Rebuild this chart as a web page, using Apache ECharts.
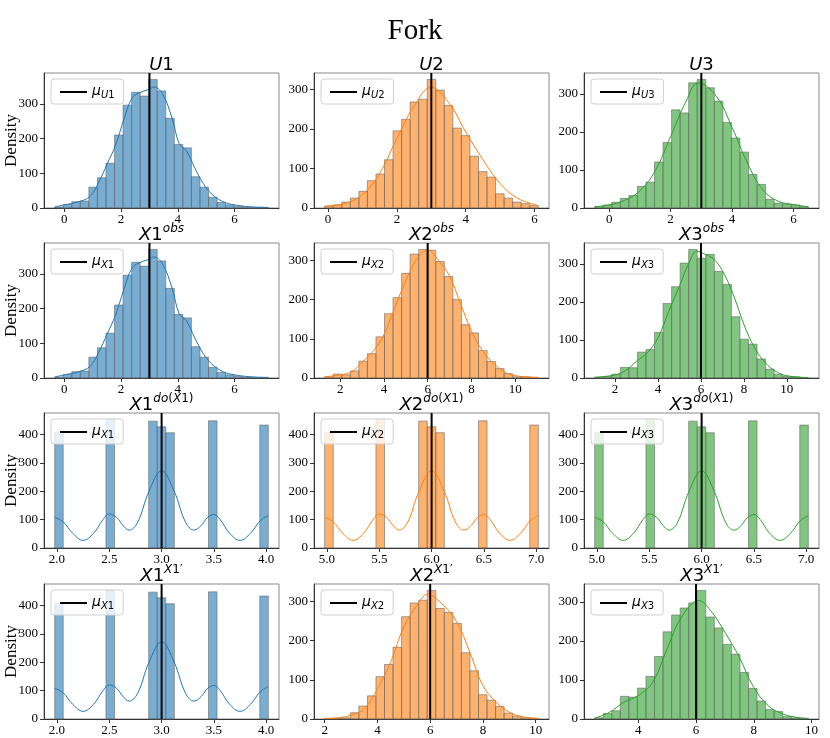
<!DOCTYPE html>
<html>
<head>
<meta charset="utf-8">
<script src="https://cdn.jsdelivr.net/npm/echarts@6/dist/echarts.min.js"></script>
<style>
html,body{margin:0;padding:0;background:#fff}
#main{width:830px;height:738px}
</style>
</head>
<body>
<div id="main"></div>
<script>
// histogram counts (25 bins) and data ranges
var u1Range = [-0.34, 7.19];
var u1Counts = [3,10,18,20,60,87,129,210,296,333,322,370,337,258,183,173,90,60,31,16,9,5,2,1,2];
var u2Range = [-0.1, 6.11];
var u2Counts = [5,8,15,25,42,69,86,122,195,224,268,275,325,298,259,202,183,131,92,78,36,25,15,11,6];
var u3Range = [-0.47, 6.48];
var u3Counts = [4,8,15,25,33,57,68,121,172,258,250,329,338,316,281,225,184,147,88,62,23,13,10,8,4];
var x2Range = [1.29, 11.06];
var x2Counts = [3,10,8,18,43,62,105,164,205,267,316,328,326,297,259,200,136,115,70,42,24,11,3,3,2];
var x3Range = [1.05, 11.0];
var x3Counts = [2,4,10,28,27,68,75,120,196,240,302,338,315,325,280,246,161,102,89,50,23,10,4,3,1];
var x1DoRange = [1.978, 4.02];
var x2DoRange = [4.978, 7.02];
var doCounts = [408,0,0,0,0,0,453,0,0,0,0,447,427,406,0,0,0,0,448,0,0,0,0,0,433];
var x2pRange = [2.0, 10.1];
var x2pCounts = [2,2,3,16,33,59,108,139,183,261,296,303,328,282,272,244,169,123,62,48,32,15,7,3,2];
var x3pRange = [2.49, 9.89];
var x3pCounts = [3,14,21,58,56,79,109,160,223,266,284,297,329,261,233,191,166,119,78,46,24,19,6,3,2];

// kde curves [x, y]
var u1Kde = [[-0.34,3],[0,9],[0.5,18],[0.9,33],[1.2,72],[1.5,125],[1.8,180],[2.1,255],[2.4,318],[2.7,333],[3.0,342],[3.15,348],[3.45,330],[3.8,258],[4.05,185],[4.3,165],[4.6,115],[4.9,70],[5.2,40],[5.6,18],[6.0,9],[6.5,4],[7.19,1]];
var u2Kde = [[-0.1,4],[0.5,12],[1.0,34],[1.5,88],[2.0,176],[2.5,258],[3.0,305],[3.5,267],[4.0,192],[4.5,122],[5.0,62],[5.5,25],[6.11,6]];
var u3Kde = [[-0.47,3],[0,8],[0.5,20],[1.0,45],[1.5,98],[2.0,188],[2.5,280],[2.9,329],[3.5,292],[4.0,212],[4.5,118],[5.0,48],[5.5,18],[6.0,9],[6.48,3]];
var x2Kde = [[1.29,3],[2,8],[2.5,15],[3,40],[3.5,68],[4,111],[4.5,180],[5,248],[5.5,303],[6,326],[6.5,300],[7,260],[7.5,190],[8,120],[8.5,70],[9,38],[9.5,16],[10,6],[11.06,1]];
var x3Kde = [[1.05,2],[2,8],[2.5,20],[3,44],[3.5,66],[4,106],[4.5,175],[5,242],[5.5,310],[5.8,333],[6.2,325],[6.6,312],[7,282],[7.5,220],[8,141],[8.5,79],[9,40],[9.5,17],[10,6],[11,1]];
var x1DoKde = [[1.978,108],[2.06,92],[2.15,52],[2.25,27],[2.35,52],[2.44,100],[2.5,120],[2.57,108],[2.63,80],[2.69,63],[2.77,90],[2.88,200],[3.0,272],[3.12,200],[3.23,90],[3.31,63],[3.38,80],[3.44,108],[3.5,118],[3.56,100],[3.65,52],[3.75,27],[3.85,52],[3.94,95],[4.02,114]];
var x2DoKde = [[4.978,108],[5.06,92],[5.15,52],[5.25,27],[5.35,52],[5.44,100],[5.5,120],[5.57,108],[5.63,80],[5.69,63],[5.77,90],[5.88,200],[6.0,272],[6.12,200],[6.23,90],[6.31,63],[6.38,80],[6.44,108],[6.5,118],[6.56,100],[6.65,52],[6.75,27],[6.85,52],[6.94,95],[7.02,114]];
var x2pKde = [[2,1],[2.5,3],[3,10],[3.5,26],[4,77],[4.5,145],[5,235],[5.5,290],[5.9,318],[6.5,290],[7,248],[7.5,171],[8,85],[8.5,43],[9,17],[9.5,6],[10.1,1]];
var x3pKde = [[2.49,2],[3,17],[3.5,43],[4,60],[4.5,94],[5,180],[5.5,261],[6.1,303],[6.5,278],[7,222],[7.5,158],[8,81],[8.5,34],[9,13],[9.5,4],[9.89,1]];

var means = [3, 3, 3, 3, 6, 6, 3, 6, 6, 3, 6, 6];
var ticksA = [0, 2, 4, 6];
var ticksB = [2, 4, 6, 8, 10];
var ticksDo1 = [2.0, 2.5, 3.0, 3.5, 4.0];
var ticksDo2 = [5.0, 5.5, 6.0, 6.5, 7.0];
var ticksC = [4, 6, 8, 10];
var yTicks3 = [0, 100, 200, 300];
var yTicks4 = [0, 100, 200, 300, 400];
var varNames = ['U1', 'U2', 'U3', 'X1', 'X2', 'X3', 'X1', 'X2', 'X3', 'X1', 'X2', 'X3'];

var colors = ['#1f77b4', '#ff7f0e', '#2ca02c'];
var fills = ['rgba(31,119,180,0.6)', 'rgba(255,127,14,0.6)', 'rgba(44,160,44,0.6)'];

var titles = [
  '{i|U}{n|1}', '{i|U}{n|2}', '{i|U}{n|3}',
  '{i|X}{n|1}{si|obs}', '{i|X}{n|2}{si|obs}', '{i|X}{n|3}{si|obs}',
  '{i|X}{n|1}{si|do}{sn|(}{si|X}{sn|1)}', '{i|X}{n|2}{si|do}{sn|(}{si|X}{sn|1)}', '{i|X}{n|3}{si|do}{sn|(}{si|X}{sn|1)}',
  "{i|X}{n|1}{si|X}{sn|1′}", "{i|X}{n|2}{si|X}{sn|1′}", "{i|X}{n|3}{si|X}{sn|1′}"
];

var panels = [
  {range:u1Range, counts:u1Counts, kde:u1Kde, xt:ticksA, yt:yTicks3, dec:0},
  {range:u2Range, counts:u2Counts, kde:u2Kde, xt:ticksA, yt:yTicks3, dec:0},
  {range:u3Range, counts:u3Counts, kde:u3Kde, xt:ticksA, yt:yTicks3, dec:0},
  {range:u1Range, counts:u1Counts, kde:u1Kde, xt:ticksA, yt:yTicks3, dec:0},
  {range:x2Range, counts:x2Counts, kde:x2Kde, xt:ticksB, yt:yTicks3, dec:0},
  {range:x3Range, counts:x3Counts, kde:x3Kde, xt:ticksB, yt:yTicks3, dec:0},
  {range:x1DoRange, counts:doCounts, kde:x1DoKde, xt:ticksDo1, yt:yTicks4, dec:1},
  {range:x2DoRange, counts:doCounts, kde:x2DoKde, xt:ticksDo2, yt:yTicks4, dec:1},
  {range:x2DoRange, counts:doCounts, kde:x2DoKde, xt:ticksDo2, yt:yTicks4, dec:1},
  {range:x1DoRange, counts:doCounts, kde:x1DoKde, xt:ticksDo1, yt:yTicks4, dec:1},
  {range:x2pRange, counts:x2pCounts, kde:x2pKde, xt:ticksB, yt:yTicks3, dec:0},
  {range:x3pRange, counts:x3pCounts, kde:x3pKde, xt:ticksC, yt:yTicks3, dec:0}
];

var colLeft = [44, 314, 584];
var rowTop = [73, 243, 413, 584];
var gw = 235, gh = 135;
var serif = 'Liberation Serif';
var sans = 'DejaVu Sans';

function histData(range, counts) {
  var w = (range[1] - range[0]) / counts.length;
  return counts.map(function (c, i) { return [range[0] + i * w, range[0] + (i + 1) * w, c]; });
}

var chart = echarts.init(document.getElementById('main'));
var grids = [], xAxes = [], yAxes = [], series = [], legends = [], graphics = [];

graphics.push({type:'text', x:415, y:31, style:{text:'Fork', font:'29px "' + serif + '"', fill:'#000',
  align:'center', verticalAlign:'middle', textAlign:'center', textVerticalAlign:'middle'}});

panels.forEach(function (p, i) {
  var r = Math.floor(i / 3), c = i % 3;
  var left = colLeft[c], top = rowTop[r];
  var span = p.range[1] - p.range[0];
  var ymax = Math.max.apply(null, p.counts) * 1.05;
  var fill = fills[c], col = colors[c];
  grids.push({left:left, top:top, width:gw, height:gh, show:true, borderColor:'#8a8a8a', borderWidth:1, backgroundColor:'#fff'});
  xAxes.push({
    type:'value', gridIndex:i, min:p.range[0] - 0.05 * span, max:p.range[1] + 0.05 * span,
    splitLine:{show:false},
    axisLine:{onZero:false, lineStyle:{color:'#333', width:1}},
    axisTick:{customValues:p.xt, length:4, lineStyle:{color:'#333'}},
    axisLabel:{customValues:p.xt, margin:5, color:'#000', fontFamily:serif, fontSize:13,
      formatter:(function (d) { return function (v) { return v.toFixed(d); }; })(p.dec)}
  });
  yAxes.push({
    type:'value', gridIndex:i, min:0, max:ymax,
    splitLine:{show:false},
    axisLine:{show:true, onZero:false, lineStyle:{color:'#333', width:1}},
    axisTick:{show:true, customValues:p.yt, length:4, lineStyle:{color:'#333'}},
    axisLabel:{customValues:p.yt, margin:6, color:'#000', fontFamily:serif, fontSize:13}
  });
  series.push({
    type:'custom', xAxisIndex:i, yAxisIndex:i, silent:true, z:2,
    data:histData(p.range, p.counts), encode:{x:[0, 1], y:2},
    renderItem:function (params, api) {
      if (!api.value(2)) return null;
      var a = api.coord([api.value(0), api.value(2)]);
      var b = api.coord([api.value(1), 0]);
      return {type:'rect', shape:{x:a[0], y:a[1], width:b[0] - a[0], height:b[1] - a[1]},
        style:{fill:fill, stroke:'rgba(105,105,105,0.6)', lineWidth:1}};
    }
  });
  series.push({
    type:'line', xAxisIndex:i, yAxisIndex:i, silent:true, z:3, data:p.kde,
    smooth:0.4, symbol:'none', lineStyle:{color:col, width:1}
  });
  series.push({
    type:'line', name:varNames[i], xAxisIndex:i, yAxisIndex:i, silent:true, z:4,
    data:[[means[i], 0], [means[i], ymax]], symbol:'none', showSymbol:false,
    lineStyle:{color:'#000', width:2}, itemStyle:{color:'#000'}
  });
  legends.push({
    left:left + 7, top:top + 6, data:[{name:varNames[i], icon:'rect'}], selectedMode:false, z:10,
    itemWidth:27, itemHeight:2, itemGap:6, padding:[5, 9, 4, 9],
    itemStyle:{color:'#000'},
    backgroundColor:'rgba(255,255,255,0.8)', borderColor:'#d0d0d0', borderWidth:1, borderRadius:3,
    formatter:function (n) { return '{m|μ}{s|' + n.charAt(0) + '}{d|' + n.charAt(1) + '}'; },
    textStyle:{rich:{
      m:{fontFamily:sans, fontStyle:'italic', fontSize:14, color:'#000', lineHeight:16, verticalAlign:'top'},
      s:{fontFamily:sans, fontStyle:'italic', fontSize:10, color:'#000', lineHeight:16, verticalAlign:'bottom'},
      d:{fontFamily:sans, fontSize:10, color:'#000', lineHeight:16, verticalAlign:'bottom'}
    }}
  });
  graphics.push({type:'text', x:left + gw / 2, y:top + 1, z:20, style:{
    text:titles[i], align:'center', verticalAlign:'bottom', textAlign:'center', textVerticalAlign:'bottom',
    rich:{
      i:{fontFamily:sans, fontStyle:'italic', fontSize:18, fill:'#000', color:'#000', lineHeight:21, verticalAlign:'bottom'},
      n:{fontFamily:sans, fontSize:18, fill:'#000', color:'#000', lineHeight:21, verticalAlign:'bottom'},
      si:{fontFamily:sans, fontStyle:'italic', fontSize:12, fill:'#000', color:'#000', lineHeight:12, verticalAlign:'top'},
      sn:{fontFamily:sans, fontSize:12, fill:'#000', color:'#000', lineHeight:12, verticalAlign:'top'}
    }}});
  if (c === 0) {
    graphics.push({type:'text', x:12, y:top + gh / 2, rotation:Math.PI / 2, style:{
      text:'Density', font:'17px "' + serif + '"', fill:'#000',
      align:'center', verticalAlign:'middle', textAlign:'center', textVerticalAlign:'middle'}});
  }
});

chart.setOption({
  animation:false,
  grid:grids, xAxis:xAxes, yAxis:yAxes, series:series, legend:legends, graphic:graphics
});
</script>
</body>
</html>
